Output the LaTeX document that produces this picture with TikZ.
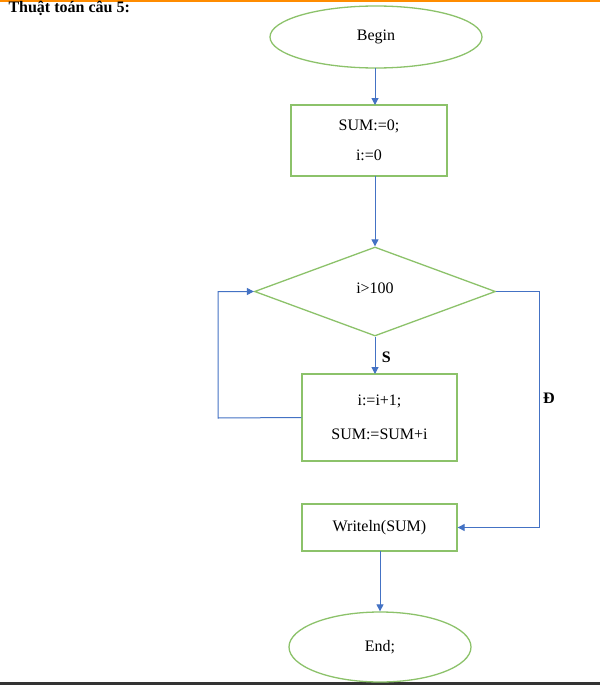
\documentclass[tikz,border=0pt]{standalone}
\usepackage{fontspec}
\setmainfont{Liberation Serif}
\usetikzlibrary{arrows.meta,shapes.geometric}
\definecolor{gr}{HTML}{8CC26A}
\definecolor{bl}{HTML}{4472C4}
\begin{document}
\begin{tikzpicture}[x=1pt,y=-1pt,
  box/.style={draw=gr,line width=1.3pt,minimum width=156pt,align=center,inner sep=0pt,font=\fontsize{16}{16}\selectfont},
  ell/.style={draw=gr,line width=1.3pt,ellipse,inner sep=0pt,font=\fontsize{16}{16}\selectfont},
  arr/.style={draw=bl,line width=1pt,-{Triangle[length=7pt,width=7pt]}},
  lbl/.style={font=\bfseries\fontsize{16}{16}\selectfont}]
\useasboundingbox (0,0) rectangle (600,685);
\fill[white] (0,0) rectangle (600,685);
\fill[orange!90!yellow] (0,0) rectangle (600,2);
\fill[black!80] (0,682) rectangle (600,685);
\node[anchor=west,font=\bfseries\fontsize{16}{16}\selectfont] (title) at (5,8) {Thuật toán câu 5:};
\node[ell,minimum width=212pt,minimum height=62pt] (begin) at (376,37) {Begin};
\node[box,minimum height=71pt] (init) at (369,140.5) {SUM:=0;\\[14pt] i:=0};
\node[draw=gr,line width=1.3pt,diamond,aspect=2.7,minimum width=241pt,minimum height=89pt,inner sep=0pt] (cond) at (375,291.5) {};
\node[font=\fontsize{16}{16}\selectfont] (condt) at (375,288) {i>100};
\node[box,minimum width=155pt,minimum height=87pt] (body) at (379.5,417.5) {i:=i+1;\\[18pt] SUM:=SUM+i};
\node[box,minimum width=155pt,minimum height=47pt] (out) at (379.5,527.5) {Writeln(SUM)};
\node[ell,minimum width=182pt,minimum height=70pt] (end) at (380,647) {End;};
\coordinate (l1) at (218,418);
\coordinate (l2) at (218,291.5);
\coordinate (r1) at (539,291.5);
\coordinate (r2) at (539,527.5);
\draw[arr] (375,68) -- (375,105);
\draw[arr] (375,176) -- (cond.north);
\draw[arr] (cond.south) -- (375,374) node[lbl,pos=0.55,right=3pt] {S};
\draw[arr] (body.west) -- (l1) -- (l2) -- (cond.west);
\draw[arr] (cond.east) -- (r1) -- (r2) -- (out.east);
\node[lbl] (d) at (549,398) {Đ};
\draw[arr] (380,551) -- (end.north);
\end{tikzpicture}
\end{document}
